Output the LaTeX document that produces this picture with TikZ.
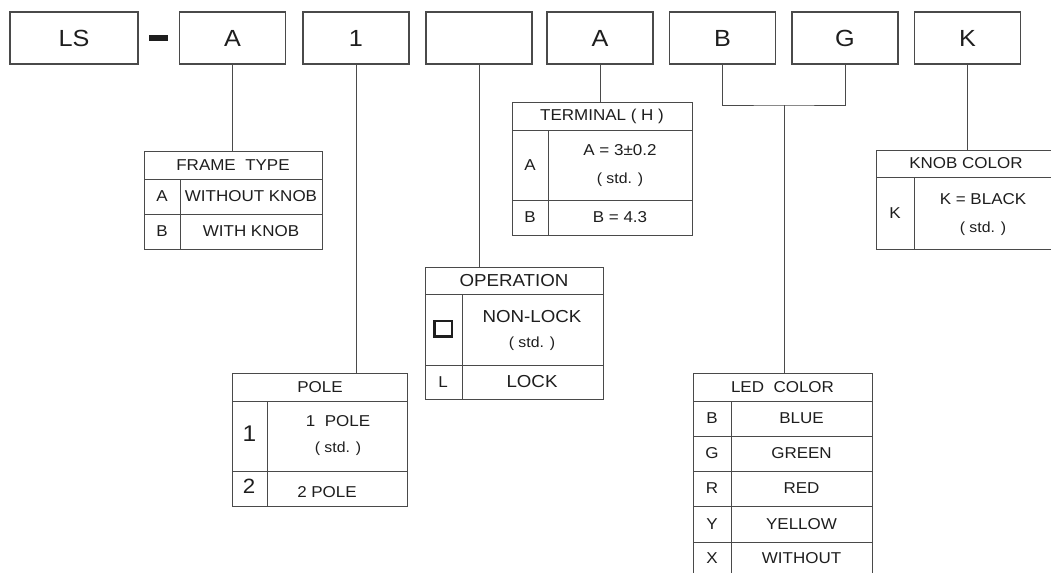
\documentclass[tikz,border=0pt]{standalone}
\usepackage{fontspec}
\setmainfont{Liberation Sans}[FakeStretch=1.08]
\definecolor{lc}{HTML}{4A4A4A}
\definecolor{tc}{HTML}{1E1E1E}
\tikzset{
  topbox/.style={draw=lc, line width=0.8pt, minimum width=79.5pt, minimum height=39pt, inner sep=0pt, text=tc, font=\fontsize{17.5}{18}\selectfont},
  tline/.style={draw=lc, line width=0.75pt},
  txt/.style={inner sep=0pt, text=tc, font=\fontsize{11.8}{12}\selectfont},
  optxt/.style={inner sep=0pt, text=tc, font=\fontsize{13}{13}\selectfont},
  stdtxt/.style={inner sep=0pt, text=tc, font=\fontsize{11}{12}\selectfont},
}
\begin{document}
\begin{tikzpicture}[x=0.75pt,y=-0.75pt]
\useasboundingbox (0,0) rectangle (1051,572);
\fill[white] (0,0) rectangle (1051,572);
\clip (0,0) rectangle (1051,572);
% top row
\node[topbox, minimum width=96pt] (ls) at (74,38) {LS};
\fill[tc] (149,34.5) rectangle (168,40.5);
\node[topbox] (bA) at (232.5,38) {A};
\node[topbox] (b1) at (356,38) {1};
\node[topbox] (bO) at (479,38) {};
\node[topbox] (bT) at (600,38) {A};
\node[topbox] (bB) at (722.5,38) {B};
\node[topbox] (bG) at (845,38) {G};
\node[topbox] (bK) at (967.5,38) {K};
% FRAME TYPE
\draw[tline] (144,151) rectangle (322,249);
\draw[tline] (144,179) -- (322,179) (144,214) -- (322,214) (180,179) -- (180,249);
\coordinate (ftTop) at (232.5,151);
\draw[tline] (bA.south) -- (ftTop);
\node[txt] (ftH) at (233,165) {FRAME\ \ TYPE};
\node[txt] (ftA) at (162,196.5) {A};
\node[txt] (ftAt) at (251,196.5) {WITHOUT KNOB};
\node[txt] (ftB) at (162,231.5) {B};
\node[txt] (ftBt) at (251,231.5) {WITH KNOB};
% TERMINAL
\draw[tline] (512,102) rectangle (692,235);
\draw[tline] (512,130) -- (692,130) (512,200) -- (692,200) (548,130) -- (548,235);
\coordinate (tmTop) at (600,102);
\draw[tline] (bT.south) -- (tmTop);
\node[txt] (tmH) at (602,116) {TERMINAL ( H )};
\node[txt] (tmA) at (530,165) {A};
\node[txt] (tmAt) at (620,150) {A = 3±0.2};
\node[stdtxt] (tmAs) at (620,180) {( std. )};
\node[txt] (tmB) at (530,217.5) {B};
\node[txt] (tmBt) at (620,217.5) {B = 4.3};
% KNOB COLOR
\draw[tline] (1060,150) -- (876,150) -- (876,249) -- (1060,249);
\draw[tline] (876,177) -- (1060,177) (914,177) -- (914,249);
\coordinate (knTop) at (967.5,150);
\draw[tline] (bK.south) -- (knTop);
\node[txt] (knH) at (966,163.5) {KNOB COLOR};
\node[txt] (knK) at (895,213) {K};
\node[txt] (knKt) at (983,199) {K = BLACK};
\node[stdtxt] (knKs) at (983,229) {( std. )};
% OPERATION
\draw[tline] (425,267) rectangle (603,399);
\draw[tline] (425,294) -- (603,294) (425,365) -- (603,365) (462,294) -- (462,399);
\coordinate (opTop) at (479,267);
\draw[tline] (bO.south) -- (opTop);
\node[optxt] (opH) at (514,280.5) {OPERATION};
\draw[tc, line width=2pt] (434.5,321) rectangle (452,336.5);
\node[optxt] (opN) at (532,317) {NON-LOCK};
\node[stdtxt] (opNs) at (532,344) {( std. )};
\node[txt] (opL) at (443,382) {L};
\node[optxt] (opLt) at (532,382) {LOCK};
% POLE
\draw[tline] (232,373) rectangle (407,506);
\draw[tline] (232,401) -- (407,401) (232,471) -- (407,471) (267,401) -- (267,506);
\coordinate (poTop) at (356,373);
\draw[tline] (b1.south) -- (poTop);
\node[txt] (poH) at (320,387) {POLE};
\node[inner sep=0pt, text=tc, font=\fontsize{17}{17}\selectfont] (po1) at (249.5,434) {1};
\node[txt] (po1t) at (338,421) {1\ \ POLE};
\node[stdtxt] (po1s) at (338,449) {( std. )};
\node[inner sep=0pt, text=tc, font=\fontsize{15.5}{16}\selectfont] (po2) at (249,486) {2};
\node[txt] (po2t) at (327,492) {2 POLE};
% LED COLOR
\draw[tline] (693,580) -- (693,373) -- (872,373) -- (872,580);
\draw[tline] (693,401) -- (872,401) (693,436) -- (872,436) (693,471) -- (872,471)
  (693,506) -- (872,506) (693,542) -- (872,542) (731,401) -- (731,580);
\coordinate (brM) at (784,105);
\coordinate (ledTop) at (784,373);
\draw[tline] (bB.south) |- (brM) -| (bG.south);
\draw[tline] (brM) -- (ledTop);
\node[txt] (ledH) at (782.5,387) {LED\ \ COLOR};
\node[txt] (lB) at (712,418.5) {B};
\node[txt] (lBt) at (801.5,418.5) {BLUE};
\node[txt] (lG) at (712,453.5) {G};
\node[txt] (lGt) at (801.5,453.5) {GREEN};
\node[txt] (lR) at (712,488.5) {R};
\node[txt] (lRt) at (801.5,488.5) {RED};
\node[txt] (lY) at (712,524) {Y};
\node[txt] (lYt) at (801.5,524) {YELLOW};
\node[txt] (lX) at (712,558) {X};
\node[txt] (lXt) at (801.5,558) {WITHOUT};
\end{tikzpicture}
\end{document}
